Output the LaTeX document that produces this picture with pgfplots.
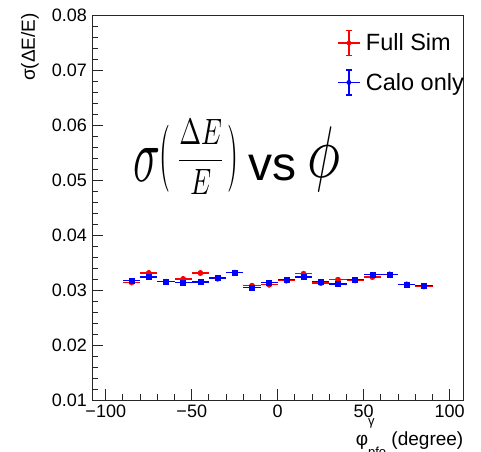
\documentclass[border=0pt]{standalone}
\usepackage{fontspec}
\setmainfont{Liberation Sans}
\usepackage{graphicx}
\usepackage{amsmath}
\usepackage{pgfplots}
\pgfplotsset{compat=1.18}
\usepackage{pgfplotstable}

% phi bins of 10 degree, sigma(dE/E) for both samples
\pgfplotstableread{
x    ex  ey      full     calo
-85  5   0.0005  0.03138  0.03175
-75  5   0.0005  0.03309  0.03236
-65  5   0.0005  0.03151  0.03151
-55  5   0.0005  0.03200  0.03138
-45  5   0.0005  0.03309  0.03145
-35  5   0.0005  0.03205  0.03218
-25  5   0.0005  0.03315  0.03320
-15  5   0.0005  0.03078  0.03047
-5   5   0.0005  0.03096  0.03138
5    5   0.0005  0.03170  0.03187
15   5   0.0005  0.03296  0.03236
25   5   0.0005  0.03127  0.03156
35   5   0.0005  0.03187  0.03109
45   5   0.0005  0.03175  0.03187
55   5   0.0005  0.03236  0.03278
65   5   0.0005  0.03284  0.03284
75   5   0.0005  0.03102  0.03102
85   5   0.0005  0.03065  0.03084
}\sigmadata

\pgfplotsset{
  rootleg/.style={legend image code/.code={
    \draw[line width=1.4pt] (-11.3pt,0) -- (11.3pt,0);
    \draw[line width=1.4pt] (0,-12.5pt) -- (0,12.5pt);
    \draw[line width=1.4pt] (-3pt,12.5pt) -- (3pt,12.5pt);
    \draw[line width=1.4pt] (-3pt,-12.5pt) -- (3pt,-12.5pt);
    \fill (0,0) circle (2.2pt);
  }},
}

\begin{document}
\begin{tikzpicture}[x=1pt,y=1pt]
\path[use as bounding box] (0,0) rectangle (481,451);
\begin{axis}[
  at={(92pt,51pt)}, anchor=south west,
  scale only axis,
  width=371.5pt, height=385pt,
  xmin=-108, xmax=108,
  ymin=0.01, ymax=0.08,
  scaled y ticks=false, scaled x ticks=false,
  xtick={-100,-50,0,50,100},
  xticklabels={−100,−50,0,50,100},
  ytick={0.01,0.02,0.03,0.04,0.05,0.06,0.07,0.08},
  yticklabels={0.01,0.02,0.03,0.04,0.05,0.06,0.07,0.08},
  minor x tick num=4, minor y tick num=4,
  tick align=inside,
  xtick pos=left, ytick pos=left,
  major tick length=11pt, minor tick length=6pt,
  axis line style={black!85, line width=1pt},
  tick style={black!85, line width=1pt},
  tick label style={font=\fontsize{18}{20}\selectfont},
  xticklabel style={inner sep=0pt, yshift=-5pt},
  yticklabel style={inner sep=0pt, xshift=-5pt},
  ylabel={σ(ΔE/E)},
  ylabel style={font=\fontsize{19}{21}\selectfont, at={(axis description cs:-0.1427,1.005)}, anchor=south east, inner sep=0pt},
  xlabel={φ\rlap{\raisebox{20pt}{\fontsize{13}{13}\selectfont γ}}\raisebox{-11pt}{\fontsize{13}{13}\selectfont pfo} (degree)},
  xlabel style={font=\fontsize{19}{21}\selectfont, at={(axis description cs:1,-0.117)}, anchor=base east, inner sep=0pt},
  legend style={draw=none, fill=none, at={(0.6587,0.962)}, anchor=north west,
    inner sep=0pt, row sep=13pt, column sep=5pt,
    nodes={inner sep=0pt, font=\fontsize{23.5}{25}\selectfont}, cells={anchor=west}},
]
\addplot[red, only marks, mark=*, mark size=2.7pt, rootleg,
  error bars/.cd, x dir=both, x explicit, y dir=both, y explicit,
  error mark=none, error bar style={line width=1.5pt, red}]
  table[x=x, y=full, x error=ex, y error=ey]{\sigmadata};
\addlegendentry{Full Sim}
\addplot[blue, only marks, mark=square*, mark size=2.5pt, rootleg,
  error bars/.cd, x dir=both, x explicit, y dir=both, y explicit,
  error mark=none, error bar style={line width=1.5pt, blue}]
  table[x=x, y=calo, x error=ex, y error=ey]{\sigmadata};
\addlegendentry{Calo only}
\end{axis}

% big annotation
\node[anchor=south west, inner sep=0pt] at (133,269) {\resizebox*{27pt}{33pt}{$\sigma$}};
\node[anchor=south west, inner sep=0pt] at (159,259) {\resizebox*{11pt}{67pt}{$($}};
\node[anchor=south west, inner sep=0pt] at (176,256) {\resizebox*{49pt}{75pt}{$\dfrac{\Delta E}{E}$}};
\node[anchor=south west, inner sep=0pt] at (227,259) {\resizebox*{11pt}{67pt}{$)$}};
\node[anchor=base west, inner sep=0pt, font=\fontsize{48}{50}\selectfont] at (248,271) {vs};
\node[anchor=south west, inner sep=0pt] at (307,259) {\resizebox*{33pt}{65pt}{$\phi$}};
\end{tikzpicture}
\end{document}
